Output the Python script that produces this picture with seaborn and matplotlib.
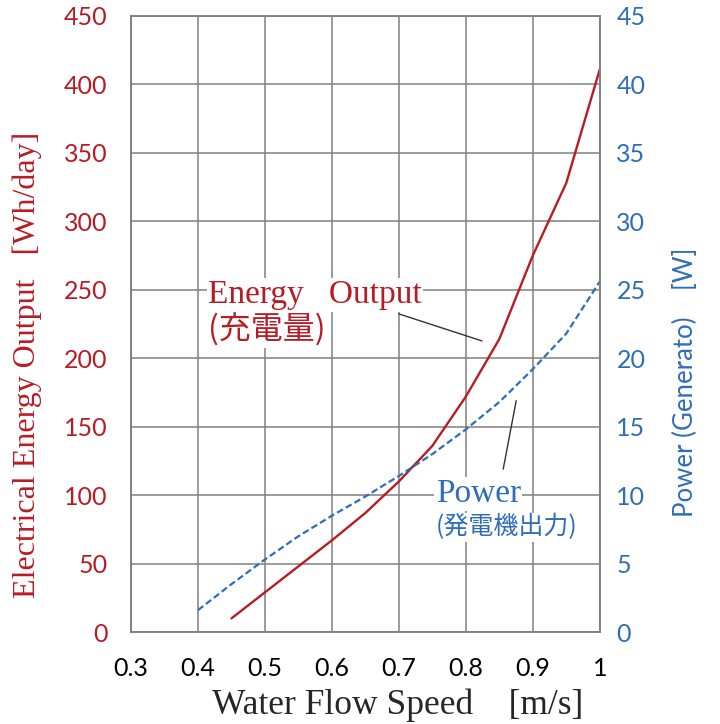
import matplotlib
matplotlib.use("Agg")
import matplotlib.pyplot as plt
import seaborn as sns
import pandas as pd

# data
speed_energy = [0.45, 0.50, 0.55, 0.60, 0.65, 0.70, 0.75, 0.80, 0.85, 0.90, 0.95, 1.00]
energy_wh = [10, 29, 48, 67, 87, 110, 136, 172, 214, 275, 328, 411]
speed_power = [0.40, 0.45, 0.50, 0.55, 0.60, 0.65, 0.70, 0.75, 0.80, 0.85, 0.90, 0.95, 1.00]
power_w = [1.6, 3.5, 5.3, 7.0, 8.5, 9.9, 11.4, 13.0, 14.8, 16.8, 19.2, 21.8, 25.6]
x_ticks = [0.3, 0.4, 0.5, 0.6, 0.7, 0.8, 0.9, 1.0]
x_ticklabels = ["0.3", "0.4", "0.5", "0.6", "0.7", "0.8", "0.9", "1"]

df_e = pd.DataFrame({"speed": speed_energy, "energy": energy_wh})
df_p = pd.DataFrame({"speed": speed_power, "power": power_w})

RED = "#B71C25"
BLUE = "#2E6DB8"
GRID = "#808080"

sns.set_style("white")
plt.rcParams["font.family"] = ["Lato", "DejaVu Sans"]

fig, ax = plt.subplots(figsize=(7.2, 7.24), dpi=100)
fig.subplots_adjust(left=0.182, right=0.833, top=0.978, bottom=0.127)
ax2 = ax.twinx()

sns.lineplot(data=df_e, x="speed", y="energy", ax=ax, color=RED, linewidth=1.7)
sns.lineplot(data=df_p, x="speed", y="power", ax=ax2, color=BLUE, linewidth=1.6,
             linestyle=(0, (3, 1.5)))

ax.set_xlim(0.3, 1.0)
ax.set_ylim(0, 450)
ax2.set_ylim(0, 45)
ax.set_xticks(x_ticks)
ax.set_xticklabels(x_ticklabels)
ax.set_yticks(range(0, 451, 50))
ax2.set_yticks(range(0, 46, 5))

ax.grid(True, color=GRID, linewidth=1.1)
ax.set_axisbelow(True)
for a in (ax, ax2):
    for s in a.spines.values():
        s.set_color(GRID)
        s.set_linewidth(1.1)

ax.tick_params(axis="y", colors=RED, labelsize=18, length=0, pad=17)
ax.tick_params(axis="x", colors="black", labelsize=18, length=0, pad=18)
ax2.tick_params(axis="y", colors=BLUE, labelsize=18, length=0, pad=12)

serif = ["Liberation Serif", "DejaVu Serif"]
ax.set_xlabel("Water Flow Speed    [m/s]", fontsize=25.5, family=serif)
ax.xaxis.set_label_coords(0.569, -0.092)
ax.set_ylabel("Electrical Energy Output   [Wh/day]", fontsize=23, family=serif,
              color=RED)
ax.yaxis.set_label_coords(-0.19, 0.433)
ax2.set_ylabel("Power (Generato)    [W]", fontsize=18.5, color=BLUE,
               family=["Lato", "DejaVu Sans"])
ax2.yaxis.set_label_coords(1.156, 0.406)

cjk = ["Noto Sans CJK JP", "DejaVu Sans"]
box = dict(facecolor="white", edgecolor="none", pad=1)
ax.text(0.164, 0.547, "Energy   Output", transform=ax.transAxes, fontsize=24,
        family=serif, color=RED, va="center", bbox=box)
ax.text(0.164, 0.490, "(充電量)", transform=ax.transAxes, fontsize=23,
        family=cjk, color=RED, va="center", bbox=box)
ax.text(0.650, 0.224, "Power", transform=ax.transAxes, fontsize=24,
        family=serif, color=BLUE, va="center", bbox=box)
ax.text(0.650, 0.170, "(発電機出力)", transform=ax.transAxes, fontsize=18,
        family=cjk, color=BLUE, va="center", bbox=box)

ax.annotate("", xy=(0.828, 212), xytext=(0.696, 233),
            arrowprops=dict(arrowstyle="-", color="#333333", lw=1))
ax.annotate("", xy=(0.876, 171), xytext=(0.855, 117),
            arrowprops=dict(arrowstyle="-", color="#333333", lw=1))

fig.savefig("out.png", dpi=100)
